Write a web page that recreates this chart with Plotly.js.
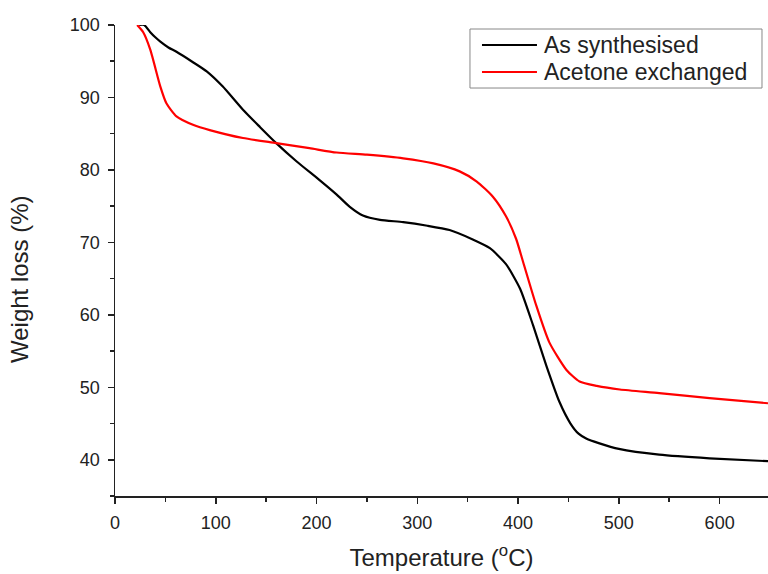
<!DOCTYPE html>
<html>
<head>
<meta charset="utf-8">
<script src="https://cdn.plot.ly/plotly-3.0.1.min.js"></script>
<style>html,body{margin:0;padding:0;background:#fff;}#chart{width:768px;height:574px;}</style>
</head>
<body>
<div id="chart"></div>
<script>
// Temperature (°C) and weight (%) for the as-synthesised sample
const asSynthTemp = [24, 29, 35, 40, 45, 53, 61, 77, 91, 107, 127, 144, 160, 180, 203, 220, 233, 246, 263, 286, 310, 332, 355, 372, 388, 402, 415, 428, 441, 452, 460, 468, 480, 500, 540, 590, 648];
const asSynthWeight = [100, 100, 99.0, 98.3, 97.7, 96.9, 96.3, 94.9, 93.6, 91.5, 88.3, 85.9, 83.7, 81.2, 78.6, 76.6, 74.9, 73.7, 73.1, 72.8, 72.3, 71.7, 70.4, 69.2, 67.0, 63.6, 58.5, 53.0, 48.0, 45.0, 43.6, 42.9, 42.3, 41.5, 40.7, 40.2, 39.8];

// Temperature (°C) and weight (%) for the acetone exchanged sample
const acetoneTemp = [22, 28, 35, 45, 51, 61, 78, 94, 127, 160, 193, 220, 250, 286, 316, 342, 359, 375, 388, 398, 405, 418, 431, 448, 461, 478, 501, 540, 590, 648];
const acetoneWeight = [100, 99.0, 96.6, 91.5, 89.2, 87.4, 86.2, 85.5, 84.4, 83.7, 83.0, 82.4, 82.1, 81.6, 80.9, 79.8, 78.4, 76.3, 73.6, 70.5, 67.3, 61.3, 56.2, 52.4, 50.8, 50.2, 49.7, 49.2, 48.5, 47.8];

const seriesNames = ["As synthesised", "Acetone exchanged"];
const seriesColors = ["#000000", "#ff0000"];
const xTickVals = [0, 100, 200, 300, 400, 500, 600];
const yTickVals = [40, 50, 60, 70, 80, 90, 100];

const FONT = "Liberation Sans, Arial, Helvetica, sans-serif";

const traces = [
  {x: asSynthTemp, y: asSynthWeight, name: seriesNames[0], mode: "lines",
   line: {color: seriesColors[0], width: 2.2, shape: "spline", smoothing: 0.6}},
  {x: acetoneTemp, y: acetoneWeight, name: seriesNames[1], mode: "lines",
   line: {color: seriesColors[1], width: 2.2, shape: "spline", smoothing: 0.6}}
];

const axisCommon = {
  showline: true, linecolor: "#222", linewidth: 1.5,
  ticks: "outside", ticklen: 6, tickwidth: 1.5, tickcolor: "#222",
  showgrid: false, zeroline: false,
  tickfont: {family: FONT, size: 18, color: "#222"}
};

// Legend box (drawn in paper coordinates to match the compact original legend)
const legendBox = {x0: 0.5436, x1: 0.9908, y0: 0.8662, y1: 0.9915};
const legendRowsY = [0.9575, 0.9002];
const legendLineX = [0.562, 0.6462];
const legendTextX = 0.6539;

const shapes = [{
  type: "rect", xref: "paper", yref: "paper",
  x0: legendBox.x0, x1: legendBox.x1, y0: legendBox.y0, y1: legendBox.y1,
  line: {color: "#888", width: 1}, fillcolor: "#fff", layer: "above"
}];
const annotations = [];
seriesNames.forEach((name, i) => {
  shapes.push({type: "line", xref: "paper", yref: "paper",
    x0: legendLineX[0], x1: legendLineX[1], y0: legendRowsY[i], y1: legendRowsY[i],
    line: {color: seriesColors[i], width: 2.2}, layer: "above"});
  annotations.push({xref: "paper", yref: "paper", x: legendTextX, y: legendRowsY[i],
    xanchor: "left", yanchor: "middle", showarrow: false, text: name,
    font: {family: FONT, size: 23, color: "#222"}});
});
// y-axis title (placed slightly below centre, as in the original)
annotations.push({xref: "paper", yref: "paper", x: -0.147, y: 0.4607,
  xanchor: "center", yanchor: "middle", showarrow: false, textangle: -90,
  text: "Weight loss (%)", font: {family: FONT, size: 24, color: "#222"}});

const layout = {
  width: 768, height: 574,
  margin: {l: 115, r: 0, t: 25, b: 78},
  paper_bgcolor: "#fff", plot_bgcolor: "#fff",
  showlegend: false,
  shapes: shapes,
  annotations: annotations,
  xaxis: Object.assign({}, axisCommon, {
    range: [0, 648], tickvals: xTickVals, ticklabelstandoff: 4,
    minor: {ticks: "outside", ticklen: 4, tickwidth: 1.5, tickcolor: "#222", dtick: 50, tick0: 0, showgrid: false},
    title: {text: "Temperature (<sup>o</sup>C)", font: {family: FONT, size: 24, color: "#222"}, standoff: 17}
  }),
  yaxis: Object.assign({}, axisCommon, {
    range: [35, 100], tickvals: yTickVals, ticklabelstandoff: 4,
    minor: {ticks: "outside", ticklen: 4, tickwidth: 1.5, tickcolor: "#222", dtick: 5, tick0: 0, showgrid: false}
  })
};

Plotly.newPlot("chart", traces, layout, {displayModeBar: false, staticPlot: true});
</script>
</body>
</html>
